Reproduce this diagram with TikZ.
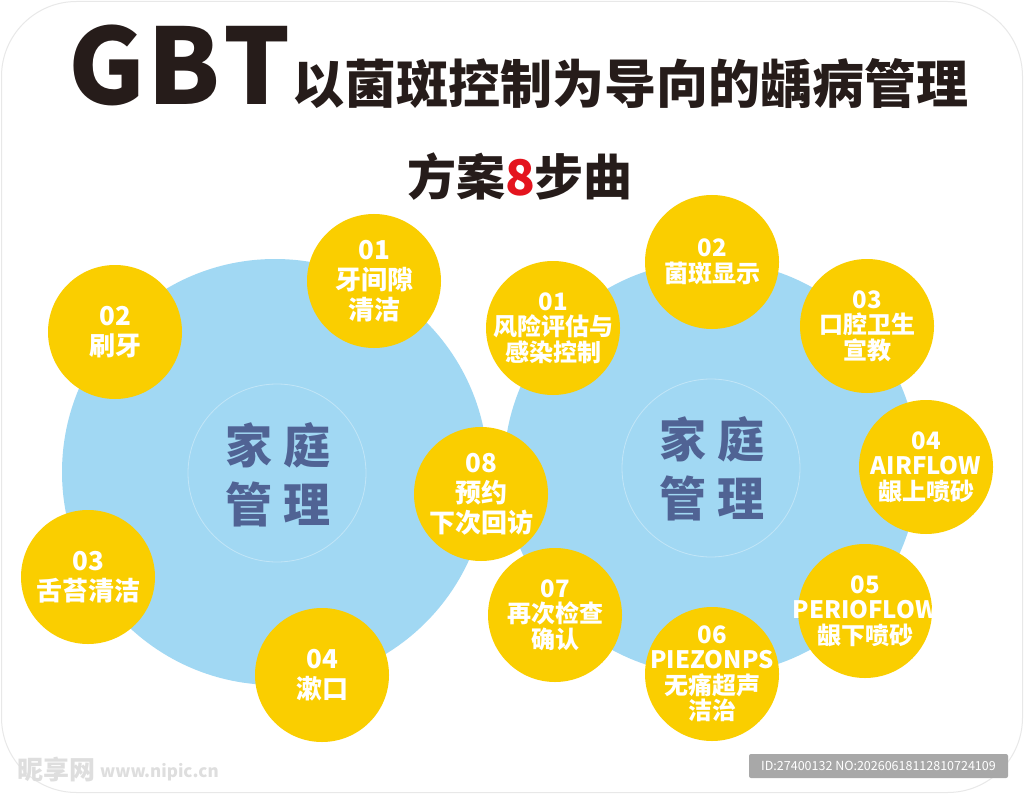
\documentclass[tikz,border=0pt]{standalone}
\usepackage{fontspec}
\setmainfont{Noto Sans CJK SC}
\newfontfamily\cjk{Noto Sans CJK SC}
\definecolor{myyellow}{RGB}{250,206,0}
\definecolor{myblue}{RGB}{161,216,243}
\definecolor{myslate}{RGB}{80,99,148}
\definecolor{mydark}{RGB}{38,28,26}
\definecolor{myred}{RGB}{228,20,30}
\definecolor{idgrey}{RGB}{168,168,168}
\begin{document}
\begin{tikzpicture}[x=1pt,y=-1pt,
  bigcirc/.style={circle, fill=myblue, inner sep=0pt},
  innerring/.style={circle, draw=white, draw opacity=0.35, line width=0.8pt, minimum size=178pt, inner sep=0pt},
  ycirc/.style={circle, fill=myyellow, minimum size=134pt, inner sep=0pt},
  ltext/.style={text=white, align=center, inner sep=0pt, font=\cjk\bfseries\fontsize{26}{30}\selectfont},
  rtext/.style={text=white, align=center, inner sep=0pt, font=\cjk\bfseries\fontsize{24}{25.5}\selectfont},
  ctext/.style={text=myslate, align=center, inner sep=0pt, font=\cjk\bfseries\fontsize{47}{59}\selectfont},
  gbt/.style={anchor=base, text=mydark, inner sep=0pt, font=\cjk\bfseries\fontsize{105}{110}\selectfont},
  wmark/.style={anchor=west, text=black!13, inner sep=0pt}
]
\useasboundingbox (0,0) rectangle (1024,794);
\fill[white] (0,0) rectangle (1024,794);
\draw[black!9, line width=1pt, rounded corners=75pt] (1.5,1.5) rectangle (1022.5,792.5);

% title
\node[gbt] (tG) at (107,105) {G};
\node[gbt] (tB) at (184,105) {B};
\node[gbt] (tT) at (257,105) {T};
\node[anchor=base, text=mydark, inner sep=0pt, font=\cjk\bfseries\fontsize{52}{56}\selectfont] (title) at (630,104) {以菌斑控制为导向的龋病管理};
\node[anchor=base, text=mydark, inner sep=0pt, font=\cjk\bfseries\fontsize{49}{52}\selectfont] (sub) at (520,196) {方案\textcolor{myred}{8}步曲};

% big blue circles
\node[bigcirc, minimum size=426pt] (L) at (275,472) {};
\node[bigcirc, minimum size=414pt] (R) at (711,468) {};
\node[innerring] (Lr) at (277,473) {};
\node[innerring] (Rr) at (711,468) {};
\node[ctext] (Lt) at (278,475) {家\hspace{12pt}庭\\管\hspace{12pt}理};
\node[ctext] (Rt) at (712,469) {家\hspace{12pt}庭\\管\hspace{12pt}理};

% left group
\node[ycirc] (l1) at (374,281) {};
\node[ltext] at (l1) {01\\牙间隙\\清洁};
\node[ycirc] (l2) at (115,332) {};
\node[ltext] at (l2) {02\\刷牙};
\node[ycirc] (l3) at (88,577) {};
\node[ltext] at (l3) {03\\舌苔清洁};
\node[ycirc] (l4) at (322,675) {};
\node[ltext] at (l4) {04\\漱口};
\node[ycirc] (l8) at (481,494) {};
\node[ltext] at (l8) {08\\预约\\下次回访};

% right group
\node[ycirc] (r1) at (553,328) {};
\node[rtext] at (r1) {01\\风险评估与\\感染控制};
\node[ycirc] (r2) at (712,262) {};
\node[rtext] at (r2) {02\\菌斑显示};
\node[ycirc] (r3) at (867,326) {};
\node[rtext] at (r3) {03\\口腔卫生\\宣教};
\node[ycirc] (r4) at (926,467) {};
\node[rtext] at (r4) {04\\AIRFLOW\\龈上喷砂};
\node[ycirc] (r5) at (865,611) {};
\node[rtext] at (r5) {05\\PERIOFLOW\\龈下喷砂};
\node[ycirc] (r6) at (712,674) {};
\node[rtext] at (r6) {06\\PIEZONPS\\无痛超声\\洁治};
\node[ycirc] (r7) at (555,615) {};
\node[rtext] at (r7) {07\\再次检查\\确认};

% watermarks
\node[wmark, font=\cjk\bfseries\fontsize{26}{28}\selectfont] (wm) at (17,770) {昵享网};
\node[wmark, font=\cjk\bfseries\itshape\fontsize{17}{20}\selectfont] (url) at (100,772) {www.nipic.cn};
\node[fill=idgrey, rounded corners=2pt, text=white, minimum width=259pt, minimum height=24pt, inner sep=0pt, font=\cjk\fontsize{12.5}{14}\selectfont] (idbox) at (878.5,766) {ID:27400132 NO:20260618112810724109};
\end{tikzpicture}
\end{document}
